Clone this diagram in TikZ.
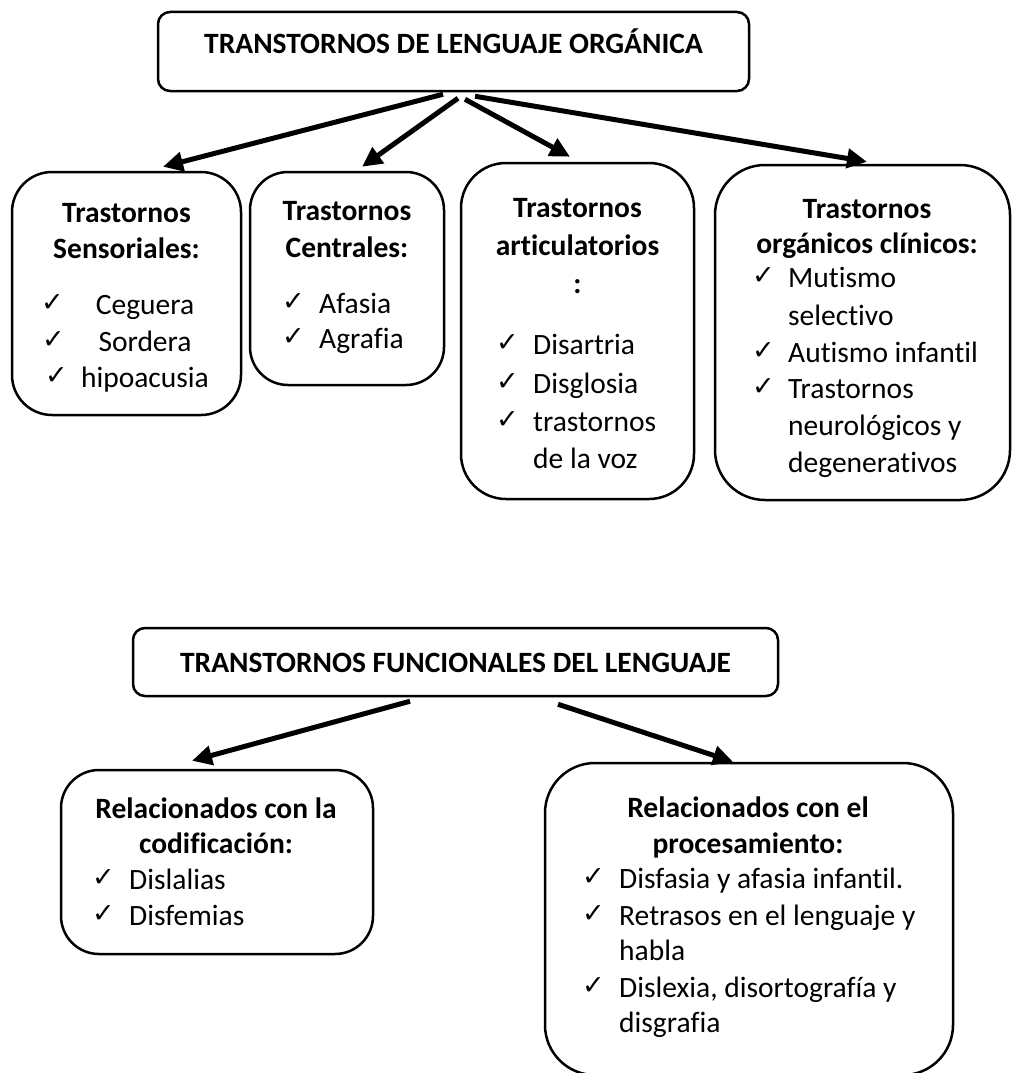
\documentclass[tikz,border=0pt]{standalone}
\usepackage{fontspec}
\setmainfont{Carlito}[Ligatures={TeX,NoCommon}]
\newfontfamily\chkfont{DejaVu Sans}
\usetikzlibrary{arrows.meta}
\tikzset{
  box/.style={draw=black, line width=2.5pt, fill=white, inner sep=0pt},
  hd/.style={font=\fontsize{29.5}{36}\selectfont\bfseries, inner sep=0pt, anchor=base},
  it/.style={font=\fontsize{29.5}{36}\selectfont, inner sep=0pt, anchor=base west},
  itc/.style={font=\fontsize{29.5}{36}\selectfont, inner sep=0pt, anchor=base},
  ck/.style={font=\chkfont\fontsize{27}{30}\selectfont, inner sep=0pt, anchor=base west},
  conn/.style={line width=5pt, -{Triangle[length=20pt,width=19pt]}}
}
\begin{document}
\begin{tikzpicture}[x=1pt,y=-1pt]
\useasboundingbox[fill=white] (0,0) rectangle (1012,1073);

% ---------- top part ----------
\node[box, rounded corners=12pt, minimum width=591pt, minimum height=79pt] (t1) at (453.5,51.5) {};
\node[hd] (t1txt) at (453.5,54) {TRANSTORNOS DE LENGUAJE ORGÁNICA};

\node[box, rounded corners=40pt, minimum width=229pt, minimum height=243pt] (b1) at (126.5,293.5) {};
\node[box, rounded corners=38pt, minimum width=194pt, minimum height=213pt] (b2) at (347,278.5) {};
\node[box, rounded corners=45pt, minimum width=233pt, minimum height=336pt] (b3) at (577.5,331) {};
\node[box, rounded corners=50pt, minimum width=295pt, minimum height=335pt] (b4) at (862.5,332.5) {};

% box 1
\node[hd] (b1h1) at (126.5,222) {Trastornos};
\node[hd] (b1h2) at (126.5,258) {Sensoriales:};
\node[ck] (b1c1) at (41,311) {✓};
\node[ck] (b1c2) at (42,348) {✓};
\node[ck] (b1c3) at (45,384) {✓};
\node[itc] (b1i1) at (145,314) {Ceguera};
\node[itc] (b1i2) at (145,351) {Sordera};
\node[itc] (b1i3) at (145,387) {hipoacusia};

% box 2
\node[hd] (b2h1) at (347,220) {Trastornos};
\node[hd] (b2h2) at (347,257) {Centrales:};
\node[ck] (b2c1) at (282,310) {✓};
\node[ck] (b2c2) at (282,345) {✓};
\node[it] (b2i1) at (319,313) {Afasia};
\node[it] (b2i2) at (319,348) {Agrafia};

% box 3
\node[hd] (b3h1) at (577.5,217) {Trastornos};
\node[hd] (b3h2) at (577.5,255) {articulatorios};
\node[hd] (b3h3) at (577.5,293) {:};
\node[ck] (b3c1) at (496,351) {✓};
\node[ck] (b3c2) at (496,390) {✓};
\node[ck] (b3c3) at (496,428) {✓};
\node[it] (b3i1) at (533,354) {Disartria};
\node[it] (b3i2) at (533,393) {Disglosia};
\node[it] (b3i3) at (533,431) {trastornos};
\node[it] (b3i4) at (533,468) {de la voz};

% box 4
\node[hd] (b4h1) at (867,218) {Trastornos};
\node[hd] (b4h2) at (867,253) {orgánicos clínicos:};
\node[ck] (b4c1) at (752,284) {✓};
\node[ck] (b4c2) at (752,359) {✓};
\node[ck] (b4c3) at (752,395) {✓};
\node[it] (b4i1) at (788,287) {Mutismo};
\node[it] (b4i2) at (788,325) {selectivo};
\node[it] (b4i3) at (788,362) {Autismo infantil};
\node[it] (b4i4) at (788,398) {Trastornos};
\node[it] (b4i5) at (788,435) {neurológicos y};
\node[it] (b4i6) at (788,472) {degenerativos};

\draw[conn] ([xshift=-10.5pt,yshift=-2pt]t1.south) -- ([xshift=36.5pt,yshift=4pt]b1.north);
\draw[conn] ([xshift=4.5pt,yshift=-6pt]t1.south) -- ([xshift=15pt,yshift=4pt]b2.north);
\draw[conn] ([xshift=11.5pt,yshift=-7pt]t1.south) -- ([xshift=-7.5pt,yshift=5pt]b3.north);
\draw[conn] ([xshift=21.5pt,yshift=-4pt]t1.south) -- ([xshift=4.5pt,yshift=2pt]b4.north);

% ---------- bottom part ----------
\node[box, rounded corners=12pt, minimum width=645pt, minimum height=68pt] (t2) at (455.5,662) {};
\node[hd] (t2txt) at (455.5,672) {TRANSTORNOS FUNCIONALES DEL LENGUAJE};

\node[box, rounded corners=38pt, minimum width=312pt, minimum height=184pt] (b5) at (217,862) {};
\node[box, rounded corners=50pt, minimum width=408pt, minimum height=312pt] (b6) at (749,919) {};

% box 5
\node[hd] (b5h1) at (216,818) {Relacionados con la};
\node[hd] (b5h2) at (216,853) {codificación:};
\node[ck] (b5c1) at (92,886) {✓};
\node[ck] (b5c2) at (92,922) {✓};
\node[it] (b5i1) at (129,889) {Dislalias};
\node[it] (b5i2) at (129,925) {Disfemias};

% box 6
\node[hd] (b6h1) at (748,817) {Relacionados con el};
\node[hd] (b6h2) at (748,853) {procesamiento:};
\node[ck] (b6c1) at (582,885) {✓};
\node[ck] (b6c2) at (582,922) {✓};
\node[ck] (b6c3) at (582,994) {✓};
\node[it] (b6i1) at (619,888) {Disfasia y afasia infantil.};
\node[it] (b6i2) at (619,925) {Retrasos en el lenguaje y};
\node[it] (b6i3) at (619,960) {habla};
\node[it] (b6i4) at (619,997) {Dislexia, disortografía y};
\node[it] (b6i5) at (619,1032) {disgrafia};

\draw[conn] ([xshift=-45.5pt,yshift=-4pt]t2.south) -- ([xshift=-25pt,yshift=8pt]b5.north);
\draw[conn] ([xshift=102.5pt,yshift=-7pt]t2.south) -- ([xshift=-16pt]b6.north);
\end{tikzpicture}
\end{document}
